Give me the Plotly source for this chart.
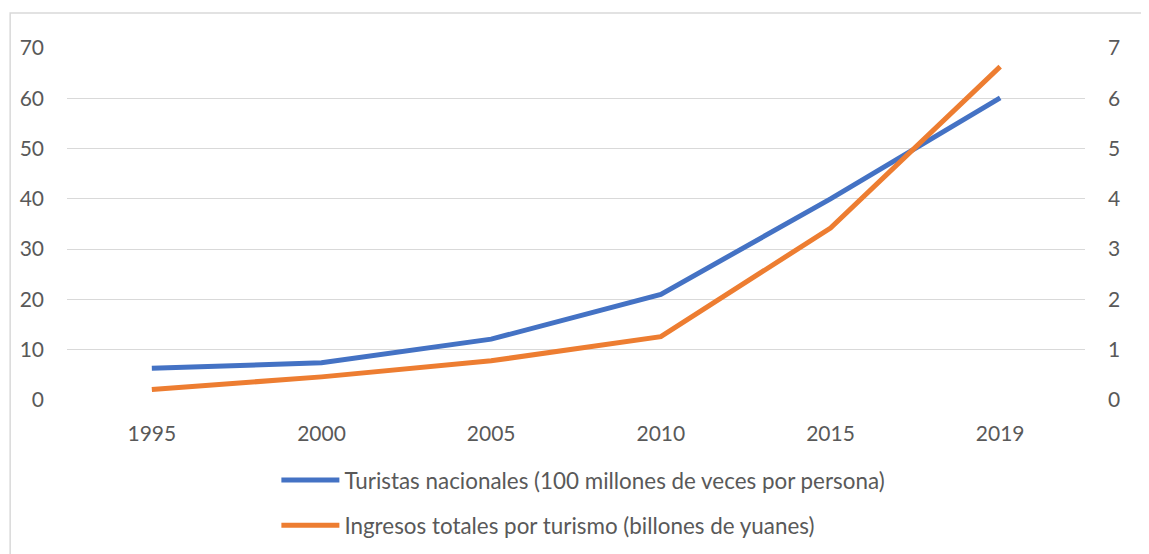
import plotly.graph_objects as go

# datos
years = ['1995', '2000', '2005', '2010', '2015', '2019']
turistas = [6.3, 7.4, 12.1, 21.0, 40.0, 60.1]        # 100 millones de veces por persona
ingresos = [0.21, 0.46, 0.78, 1.26, 3.42, 6.63]      # billones de yuanes
left_ticks = [0, 10, 20, 30, 40, 50, 60, 70]
right_ticks = [0, 1, 2, 3, 4, 5, 6, 7]

# la página deja 8px de margen alrededor del gráfico
OFF = 8
W, H = 1149 - OFF, 554
L, T = 64 - OFF, 48 - OFF
pw, ph = 1021, 352
R = W - L - pw
B = H - T - ph

def px_x(p):
    return (p - OFF - L) / pw

def px_y(p):
    return (T + ph - (p - OFF)) / ph

font_name = 'Lato'
grey = '#595959'

fig = go.Figure()
fig.add_trace(go.Scatter(
    x=years, y=turistas,
    mode='lines',
    name='Turistas nacionales (100 millones de veces por persona)',
    line=dict(color='#4472C4', width=5),
    legendgroup='a',
))
fig.add_trace(go.Scatter(
    x=years, y=ingresos,
    mode='lines',
    name='Ingresos totales por turismo (billones de yuanes)',
    line=dict(color='#ED7D31', width=5),
    yaxis='y2',
    legendgroup='b',
))

# borde del área del gráfico
fig.add_shape(type='rect', xref='paper', yref='paper',
              x0=px_x(7), x1=px_x(1170), y0=px_y(13), y1=px_y(580),
              line=dict(color='#d9d9d9', width=1.5), layer='below')

fig.update_layout(
    width=W, height=H,
    margin=dict(l=L, r=R, t=T, b=B),
    paper_bgcolor='white',
    plot_bgcolor='white',
    font=dict(family=font_name, size=21, color=grey),
    xaxis=dict(
        type='category', range=[-0.5, 5.5],
        showgrid=False, zeroline=False, showline=False,
        ticks='', ticklabelstandoff=19,
        tickfont=dict(size=21, color=grey),
    ),
    yaxis=dict(
        range=[0, 70], tickvals=left_ticks,
        showgrid=True, gridcolor='#d9d9d9', gridwidth=1.2,
        zeroline=False, showline=False, ticks='',
        ticklabelstandoff=22,
        tickfont=dict(size=21, color=grey),
    ),
    yaxis2=dict(
        range=[0, 7], tickvals=right_ticks,
        overlaying='y', side='right',
        showgrid=False, zeroline=False, showline=False, ticks='',
        ticklabelstandoff=22,
        tickfont=dict(size=21, color=grey),
    ),
    legend=dict(
        orientation='v',
        x=px_x(274), xanchor='left',
        yref='container',
        y=1 - (459 - OFF) / H, yanchor='top',
        font=dict(size=22.4, color=grey),
        tracegroupgap=13,
        itemwidth=58,
        bgcolor='rgba(0,0,0,0)',
    ),
    showlegend=True,
)

fig.write_html('out.html')
